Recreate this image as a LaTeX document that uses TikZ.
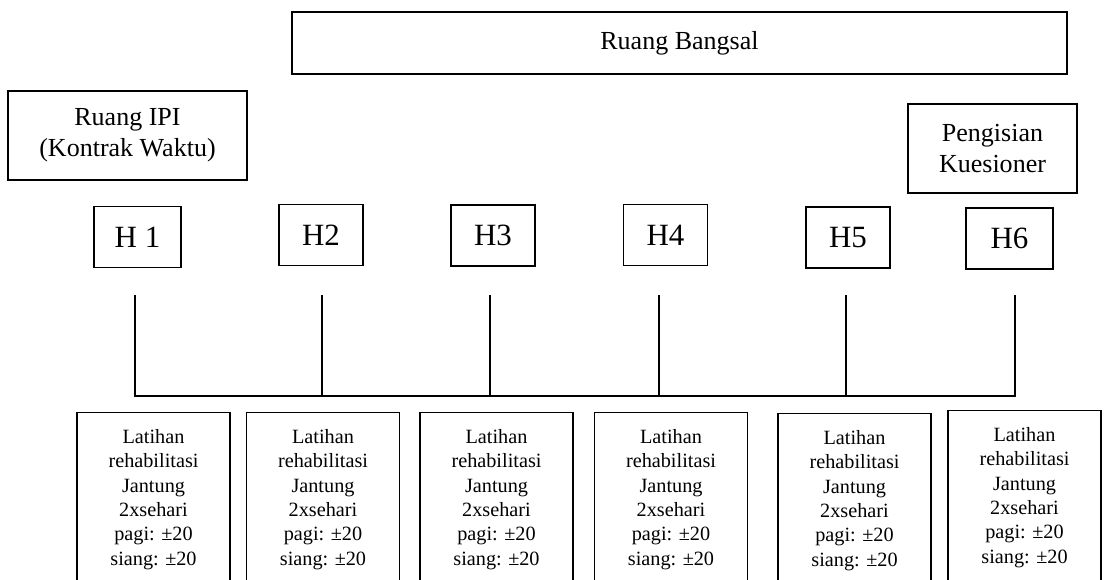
\documentclass[tikz,border=0pt]{standalone}
\usepackage{fontspec}
\setmainfont{Liberation Serif}
\usepackage{tikz}
\usetikzlibrary{positioning,calc}
\newcommand{\pmtwenty}{\hspace{-0.18em}±20}

\begin{document}
\begin{tikzpicture}[
    x=0.025cm, y=-0.025cm,
    room/.style={rectangle, draw, line width=0.9pt, align=center, inner sep=0pt, minimum height=2.225cm, font=\fontsize{18.5}{22}\selectfont},
    day/.style={rectangle, draw, line width=0.9pt, inner sep=0pt, minimum width=2.1cm, minimum height=1.52cm, font=\fontsize{22}{26}\selectfont},
    task/.style={rectangle, draw, line width=0.9pt, anchor=north, text width=3.6cm, inner xsep=0.1125cm, inner ysep=0.42cm, align=center, font=\fontsize{14.4}{17.3}\selectfont},
    bar/.style={line width=0.9pt}
]
    \useasboundingbox (0,0) rectangle (1105,579);

    \node[room, minimum width=19.375cm, minimum height=1.55cm] (bangsal) at (679.5,43) {Ruang Bangsal};
    \node[room, minimum width=5.975cm] (ipi) at (127.5,135.5) {Ruang IPI\\(Kontrak Waktu)};
    \node[room, minimum width=4.225cm] (kuesioner) at (992.5,148.5) {Pengisian\\Kuesioner};

    \node[day, minimum width=2.175cm] (h1) at (137.5,237) {H 1};
    \node[day] (h2) at (321,235) {H2};
    \node[day] (h3) at (493,235.5) {H3};
    \node[day] (h4) at (665.5,235) {H4};
    \node[day] (h5) at (848,237.5) {H5};
    \node[day, minimum width=2.175cm] (h6) at (1009.5,238.5) {H6};

    % bars under the days
    \coordinate (t1) at (135,295);  \coordinate (b1) at (135,396);
    \coordinate (t2) at (322,295);  \coordinate (b2) at (322,396);
    \coordinate (t3) at (490,295);  \coordinate (b3) at (490,396);
    \coordinate (t4) at (659,295);  \coordinate (b4) at (659,396);
    \coordinate (t5) at (846,295);  \coordinate (b5) at (846,396);
    \coordinate (t6) at (1015,295); \coordinate (b6) at (1015,396);

    \draw[bar] (t1) -- (b1) -- (b6) -- (t6);
    \draw[bar] (t2) -- (b2);
    \draw[bar] (t3) -- (b3);
    \draw[bar] (t4) -- (b4);
    \draw[bar] (t5) -- (b5);

    \node[task] (r1) at (153.5,412) {Latihan\\rehabilitasi\\Jantung\\2xsehari\\pagi: \pmtwenty\\siang: \pmtwenty};
    \node[task] (r2) at (323,412) {Latihan\\rehabilitasi\\Jantung\\2xsehari\\pagi: \pmtwenty\\siang: \pmtwenty};
    \node[task] (r3) at (496.5,412) {Latihan\\rehabilitasi\\Jantung\\2xsehari\\pagi: \pmtwenty\\siang: \pmtwenty};
    \node[task] (r4) at (671,412) {Latihan\\rehabilitasi\\Jantung\\2xsehari\\pagi: \pmtwenty\\siang: \pmtwenty};
    \node[task] (r5) at (854.5,413) {Latihan\\rehabilitasi\\Jantung\\2xsehari\\pagi: \pmtwenty\\siang: \pmtwenty};
    \node[task] (r6) at (1024.5,410) {Latihan\\rehabilitasi\\Jantung\\2xsehari\\pagi: \pmtwenty\\siang: \pmtwenty};
\end{tikzpicture}
\end{document}
